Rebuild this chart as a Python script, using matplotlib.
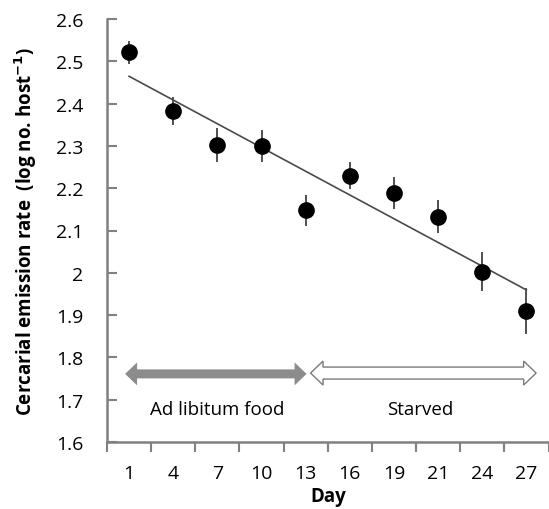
import numpy as np
import matplotlib
matplotlib.use("Agg")
import matplotlib.pyplot as plt
from matplotlib.patches import Polygon

plt.rcParams['font.family'] = ['Open Sans', 'DejaVu Sans']

days = ['1', '4', '7', '10', '13', '16', '19', '21', '24', '27']
rate = [2.521, 2.383, 2.303, 2.300, 2.148, 2.230, 2.189, 2.133, 2.003, 1.910]
err = [0.028, 0.033, 0.040, 0.038, 0.037, 0.033, 0.037, 0.038, 0.045, 0.054]
yticks = [1.6, 1.7, 1.8, 1.9, 2.0, 2.1, 2.2, 2.3, 2.4, 2.5, 2.6]
ytick_labels = ['1.6', '1.7', '1.8', '1.9', '2', '2.1', '2.2', '2.3', '2.4', '2.5', '2.6']

W, H = 549, 510
fig = plt.figure(figsize=(W / 100, H / 100), dpi=100)
ax = fig.add_axes([107 / W, 1 - 443 / H, 441.5 / W, 423 / H])

x = np.arange(len(days))
axis_col = '#808080'
fs = 13.5
tfs = 14

# trend line
k, b = np.polyfit(x, rate, 1)
ax.plot([x[0], x[-1]], [k * x[0] + b, k * x[-1] + b], color='#4a4a4a', lw=1.2, zorder=2)

ax.errorbar(x, rate, yerr=err, fmt='o', color='black', ms=11, ecolor='#505050',
            elinewidth=1.4, capsize=0, zorder=3)

ax.set_xlim(-0.5, len(days) - 0.5)
ax.set_ylim(1.6, 2.6)

ax.set_xticks(x)
ax.set_xticklabels(days)
ax.set_xticks(np.arange(-0.5, len(days)), minor=True)
ax.tick_params(axis='x', which='major', length=0, pad=16, labelsize=tfs)
ax.tick_params(axis='x', which='minor', length=7, width=1.5, direction='out', color=axis_col)
ax.set_yticks(yticks)
ax.set_yticklabels(ytick_labels)
ax.tick_params(axis='y', length=7, width=1.5, direction='in', color=axis_col, pad=17, labelsize=tfs)

for s in ['top', 'right']:
    ax.spines[s].set_visible(False)
for s in ['left', 'bottom']:
    ax.spines[s].set_color(axis_col)
    ax.spines[s].set_linewidth(1.8)

ax.set_xlabel('Day', fontsize=fs, fontweight='bold', labelpad=3)
ax.set_ylabel('Cercarial emission rate  (log no. host$^{\\mathbf{-1}}$)', fontsize=fs,
              fontweight='bold', labelpad=12)

# double arrows (sizes given in pixels, converted to data units)
px_x = (len(days)) / 441.5
px_y = 1.0 / 423


def double_arrow(x0, x1, yc, body_px, head_px, headlen_px, **kw):
    bh = body_px / 2 * px_y
    hh = head_px / 2 * px_y
    hl = headlen_px * px_x
    verts = [(x0, yc), (x0 + hl, yc + hh), (x0 + hl, yc + bh), (x1 - hl, yc + bh),
             (x1 - hl, yc + hh), (x1, yc), (x1 - hl, yc - hh), (x1 - hl, yc - bh),
             (x0 + hl, yc - bh), (x0 + hl, yc - hh)]
    ax.add_patch(Polygon(verts, closed=True, **kw))


double_arrow(-0.09, 4.02, 1.761, 9, 23, 12, facecolor='#8c8c8c', edgecolor='none', zorder=2)
double_arrow(4.11, 9.22, 1.763, 12, 24, 12.5, facecolor='white', edgecolor='#7a7a7a',
             lw=1.0, zorder=2)

ax.text(2.0, 1.678, 'Ad libitum food', ha='center', va='center', fontsize=fs)
ax.text(6.6, 1.678, 'Starved', ha='center', va='center', fontsize=fs)

fig.savefig('out.png', dpi=100)
